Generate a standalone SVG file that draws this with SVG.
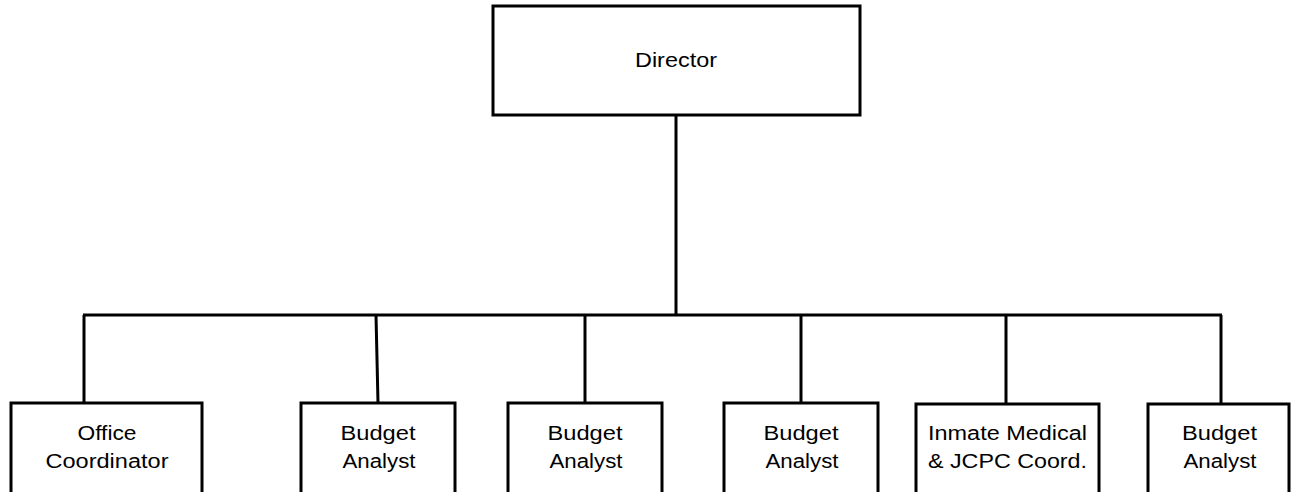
<svg xmlns="http://www.w3.org/2000/svg" width="1291" height="492" viewBox="0 0 1291 492">
<style>
.box{fill:#fff;stroke:#000;stroke-width:3}
.ln{stroke:#000;stroke-width:3;fill:none}
text{font-family:"Liberation Sans",Arial,sans-serif;font-size:20px;fill:#000;text-anchor:middle}
</style>
<rect width="1291" height="492" fill="#fff"/>
<g id="connectors">
<line class="ln" x1="676" y1="115" x2="676" y2="315"/>
<line class="ln" x1="83" y1="315" x2="1222" y2="315"/>
<line class="ln" x1="84" y1="315" x2="84" y2="403"/>
<line class="ln" x1="376" y1="315" x2="378" y2="403"/>
<line class="ln" x1="585" y1="315" x2="585" y2="403"/>
<line class="ln" x1="801" y1="315" x2="801" y2="403"/>
<line class="ln" x1="1006" y1="315" x2="1006" y2="404"/>
<line class="ln" x1="1221" y1="315" x2="1221" y2="404"/>
</g>
<g id="director">
<rect class="box" x="493" y="6" width="367" height="109"/>
<text x="676" y="67" style="font-size:21px" textLength="82" lengthAdjust="spacingAndGlyphs">Director</text>
</g>
<g id="office-coordinator">
<rect class="box" x="11" y="403" width="191" height="100"/>
<text x="107" y="440" textLength="59" lengthAdjust="spacingAndGlyphs">Office</text>
<text x="107" y="468" textLength="123" lengthAdjust="spacingAndGlyphs">Coordinator</text>
</g>
<g id="budget-analyst-1">
<rect class="box" x="301" y="403" width="154" height="100"/>
<text x="378" y="440" textLength="75" lengthAdjust="spacingAndGlyphs">Budget</text>
<text x="379" y="468" textLength="73" lengthAdjust="spacingAndGlyphs">Analyst</text>
</g>
<g id="budget-analyst-2">
<rect class="box" x="508" y="403" width="154" height="100"/>
<text x="585" y="440" textLength="75" lengthAdjust="spacingAndGlyphs">Budget</text>
<text x="586" y="468" textLength="73" lengthAdjust="spacingAndGlyphs">Analyst</text>
</g>
<g id="budget-analyst-3">
<rect class="box" x="724" y="403" width="154" height="100"/>
<text x="801" y="440" textLength="75" lengthAdjust="spacingAndGlyphs">Budget</text>
<text x="802" y="468" textLength="73" lengthAdjust="spacingAndGlyphs">Analyst</text>
</g>
<g id="inmate-medical">
<rect class="box" x="916" y="404" width="183" height="100"/>
<text x="1007.5" y="440" textLength="159" lengthAdjust="spacingAndGlyphs">Inmate Medical</text>
<text x="1007.5" y="468" textLength="159" lengthAdjust="spacingAndGlyphs">&amp; JCPC Coord.</text>
</g>
<g id="budget-analyst-4">
<rect class="box" x="1148" y="404" width="141" height="100"/>
<text x="1219.5" y="440" textLength="75" lengthAdjust="spacingAndGlyphs">Budget</text>
<text x="1220" y="468" textLength="73" lengthAdjust="spacingAndGlyphs">Analyst</text>
</g>
</svg>
